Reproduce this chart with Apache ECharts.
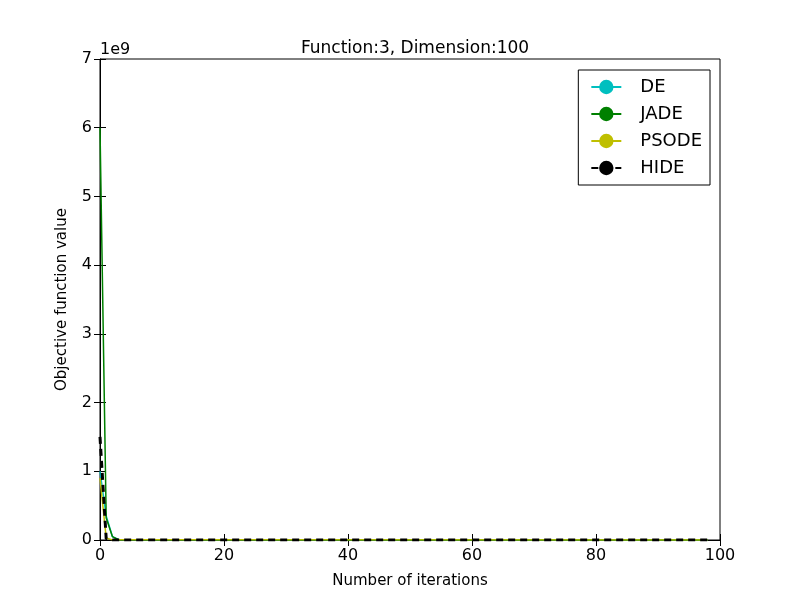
<!DOCTYPE html>
<html lang="en">
<head>
    <meta charset="UTF-8">
    <title>Function:3, Dimension:100</title>
    <script src="https://cdn.jsdelivr.net/npm/echarts@6/dist/echarts.min.js"></script>
</head>
<style>
    body { margin: 0; background: #fff; }
</style>
<body>
    <div id="chart" style="width: 800px;height: 600px;"></div>
    <script>
        // values in units of 1e9
        var deX = [0, 1, 2, 3, 98];
        var deY = [1.0, 0.35, 0.05, 0.005, 0.0];
        var jadeX = [0, 1, 2, 3, 98];
        var jadeY = [6.0, 0.32, 0.05, 0.004, 0.0];
        var psodeX = [0, 1, 2, 98];
        var psodeY = [0.9, 0.03, 0.002, 0.0];
        var hideX = [0, 1, 2, 98];
        var hideY = [1.5, 0.02, 0.001, 0.0];
        var yTicks = [0, 1, 2, 3, 4, 5, 6, 7];

        function pairs(xs, ys) {
            return xs.map(function (x, i) { return [x, ys[i]]; });
        }

        var myChart = echarts.init(document.getElementById('chart'));
        var font = 'DejaVu Sans';
        var tick = { show: true, inside: true, length: 6, lineStyle: { color: '#000' } };
        option = {
            animation: false,
            textStyle: { fontFamily: font },
            title: {
                text: 'Function:3, Dimension:100',
                left: 410, top: 35, textAlign: 'center',
                textStyle: { fontFamily: font, fontSize: 17, fontWeight: 'normal', color: '#000' }
            },
            graphic: [{
                type: 'text', left: 100, top: 42,
                style: { text: '1e9', font: '16px DejaVu Sans', fill: '#000' }
            }],
            legend: {
                orient: 'vertical', right: 90, top: 70,
                padding: [8, 8, 8, 12], itemGap: 9, width: 118,
                borderColor: '#000', borderWidth: 1, borderRadius: 0,
                itemWidth: 30, itemHeight: 18,
                textStyle: { fontFamily: font, fontSize: 18, color: '#000', padding: [0, 0, 0, 14] },
                data: ['DE', 'JADE', 'PSODE', 'HIDE']
            },
            grid: { left: 100, right: 80, top: 59, bottom: 60, show: true, borderColor: '#000', borderWidth: 1 },
            xAxis: [{
                type: 'value', min: 0, max: 100, interval: 20,
                name: 'Number of iterations', nameLocation: 'middle', nameGap: 34,
                nameTextStyle: { fontSize: 15, color: '#000' },
                axisLine: { lineStyle: { color: '#000' } }, axisTick: tick,
                axisLabel: { fontSize: 16, color: '#000', margin: 8 },
                splitLine: { show: false }
            }, {
                type: 'value', min: 0, max: 100, interval: 20, position: 'top',
                axisLine: { show: false }, axisTick: tick, axisLabel: { show: false }, splitLine: { show: false }
            }],
            yAxis: [{
                type: 'value', min: 0, max: 7, interval: 1,
                name: 'Objective function value', nameLocation: 'middle', nameGap: 30,
                nameTextStyle: { fontSize: 15, color: '#000' },
                axisLine: { show: true, lineStyle: { color: '#000' } }, axisTick: tick,
                axisLabel: { fontSize: 16, color: '#000', margin: 8,
                    formatter: function (v) { return yTicks.indexOf(v) >= 0 ? String(v) : ''; } },
                splitLine: { show: false }
            }, {
                type: 'value', min: 0, max: 7, interval: 1, position: 'right',
                axisLine: { show: false }, axisTick: tick, axisLabel: { show: false }, splitLine: { show: false }
            }],
            series: [
                { name: 'DE', type: 'line', symbol: 'none', data: pairs(deX, deY),
                  lineStyle: { color: '#00bfbf', width: 1.5 }, itemStyle: { color: '#00bfbf' } },
                { name: 'JADE', type: 'line', symbol: 'none', data: pairs(jadeX, jadeY),
                  lineStyle: { color: '#008000', width: 1.5 }, itemStyle: { color: '#008000' } },
                { name: 'PSODE', type: 'line', symbol: 'none', data: pairs(psodeX, psodeY),
                  lineStyle: { color: '#bfbf00', width: 1.5 }, itemStyle: { color: '#bfbf00' } },
                { name: 'HIDE', type: 'line', symbol: 'none', data: pairs(hideX, hideY),
                  lineStyle: { color: '#000', width: 3, type: [7, 5] }, itemStyle: { color: '#000' } }
            ]
        };
        myChart.setOption(option);
    </script>
</body>
</html>
